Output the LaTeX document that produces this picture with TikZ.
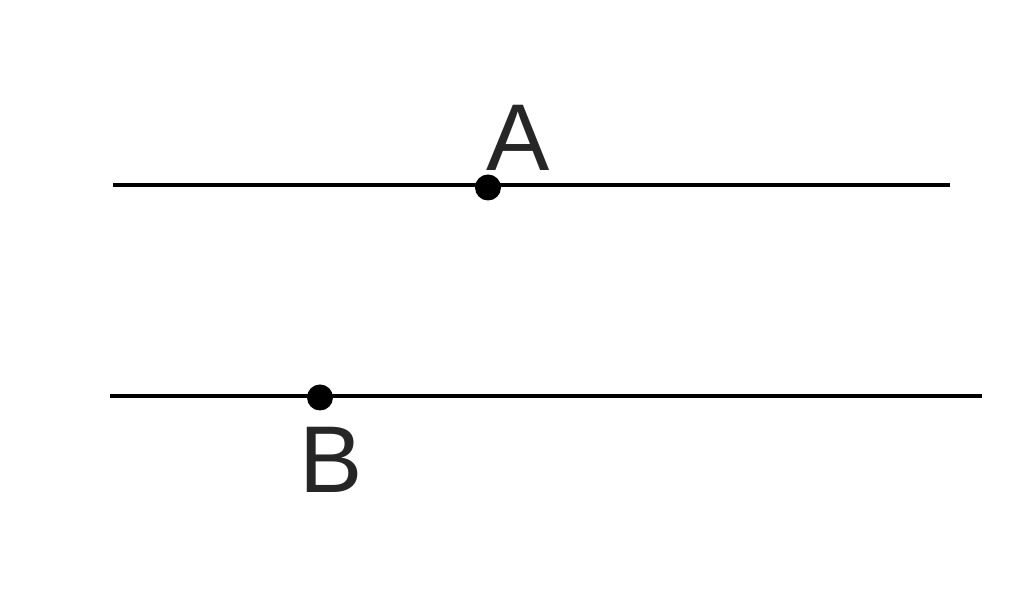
\documentclass[tikz,border=0pt]{standalone}
\usepackage{fontspec}
\setmainfont{Liberation Sans}
\usetikzlibrary{arrows}

\begin{document}
\begin{tikzpicture}

\tikzset{dot/.style = {shape=circle,fill=black,inner sep=0pt,minimum size=0.52cm}}
\tikzset{line/.style = {line width=2pt}}
\tikzset{letter/.style = {inner sep=0pt,text=black!85,font=\fontsize{54}{60}\selectfont}}
\useasboundingbox (0,0) rectangle (20.48,11.92);
% ends of the lines
\coordinate (a1) at (2.26,8.22);
\coordinate (a2) at (19.0,8.22);
\coordinate (b1) at (2.2,4.0);
\coordinate (b2) at (19.64,4.0);
%lines
\draw[line] (a1) to (a2);
\draw[line] (b1) to (b2);
% points
\node[dot] (pointA) at (9.76,8.17) {};
\node[dot] (pointB) at (6.4,3.97) {};
\node[letter] (labelA) at (10.36,9.16) {A};
\node[letter] (labelB) at (6.62,2.72) {B};
\end{tikzpicture}
\end{document}
